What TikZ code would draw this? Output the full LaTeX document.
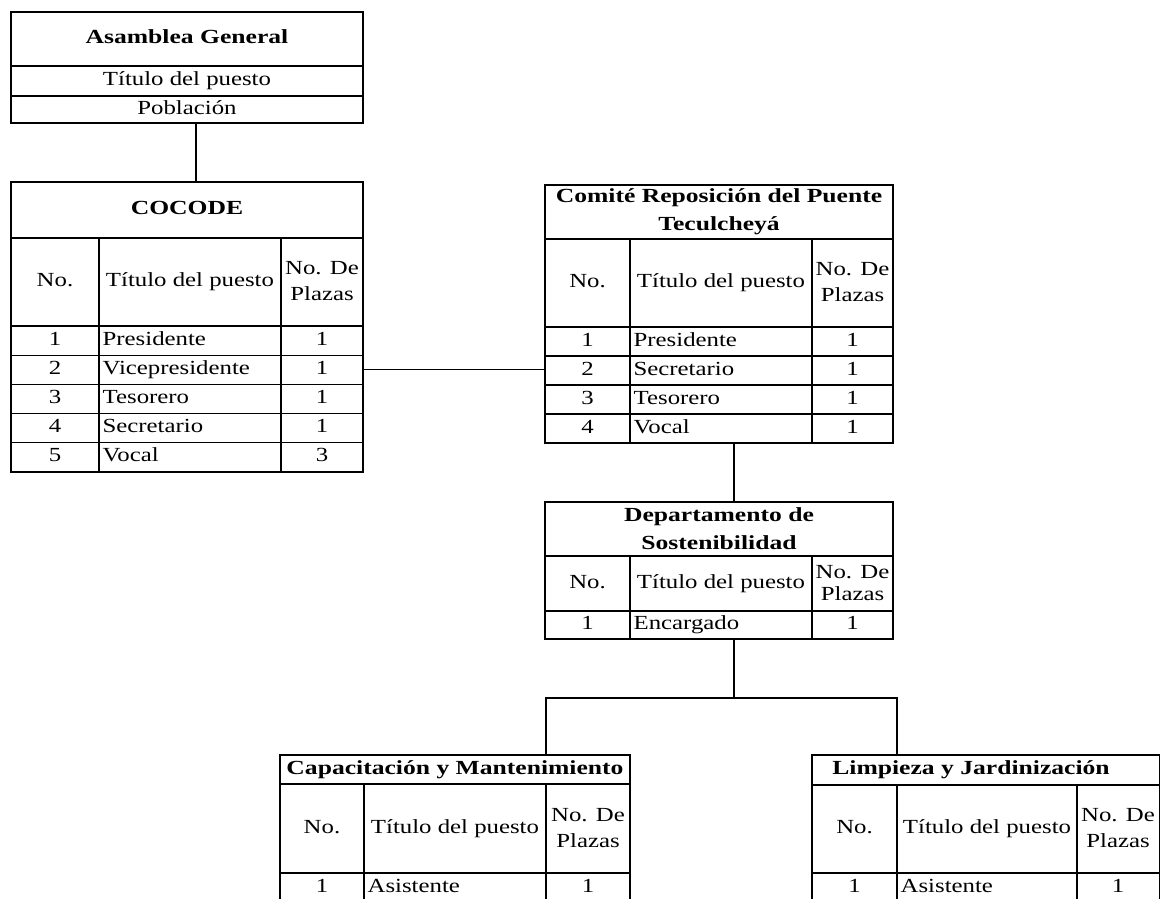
\documentclass[tikz,border=0pt]{standalone}
\usepackage{fontspec}
\setmainfont{Liberation Serif}[FakeStretch=1.24,BoldFeatures={FakeStretch=1.28}]
\usetikzlibrary{positioning}

\begin{document}
\begin{tikzpicture}[
        x = 1pt, y = -1pt,
        line width = 1.3pt,
        every node/.style = {font=\fontsize{20}{21}\selectfont, inner sep=0pt},
        cell/.style = {text height=13.5pt, text depth=4.5pt},
        tblbox/.style = {draw, anchor=north west, outer sep=0pt},
        ttl/.style = {font=\fontsize{20}{28}\selectfont\bfseries, align=center},
        hdr/.style = {align=center, font=\fontsize{20}{26}\selectfont},
        lft/.style = {cell, anchor=west}
    ]
    \useasboundingbox (0,0) rectangle (1160,898);
    \clip (0,0) rectangle (1160,898);

    % Asamblea General
    \node[tblbox, minimum width=352pt, minimum height=111pt] (asamblea) at (11,12) {};
    \draw (11,66) -- (363,66) (11,96) -- (363,96);
    \node[ttl, cell] (asamblea-t) at (187,39) {Asamblea General};
    \node[cell] (asamblea-p) at (187,81) {Título del puesto};
    \node[cell] (asamblea-q) at (187,110) {Población};

    % COCODE
    \node[tblbox, minimum width=352pt, minimum height=290pt] (cocode) at (11,182) {};
    \draw (11,238) -- (363,238) (11,326) -- (363,326);
    \foreach \y in {355.2,384.4,413.6,442.8} \draw (11,\y) -- (363,\y);
    \draw (99,238) -- (99,472) (281,238) -- (281,472);
    \node[ttl, cell] (cocode-t) at (187,210) {COCODE};
    \node[cell] (cocode-h1) at (55,282) {No.};
    \node[cell] (cocode-h2) at (190,282) {Título del puesto};
    \node[hdr] (cocode-h3) at (322,281) {No. De\\Plazas};
    \foreach \n/\p/\k [count=\i] in {1/Presidente/1, 2/Vicepresidente/1, 3/Tesorero/1, 4/Secretario/1, 5/Vocal/3} {
        \node[cell] (cocode-n\i) at (55,311.4+29.2*\i) {\n};
        \node[lft] (cocode-p\i) at (102,311.4+29.2*\i) {\p};
        \node[cell] (cocode-k\i) at (322,311.4+29.2*\i) {\k};
    }

    % Comite
    \node[tblbox, minimum width=348pt, minimum height=258pt] (comite) at (545,185) {};
    \draw (545,239) -- (893,239) (545,327) -- (893,327);
    \foreach \y in {356,385,414} \draw (545,\y) -- (893,\y);
    \draw (630,239) -- (630,443) (812,239) -- (812,443);
    \node[ttl] (comite-t) at (719,212) {Comité Reposición del Puente\\Teculcheyá};
    \node[cell] (comite-h1) at (587.5,283) {No.};
    \node[cell] (comite-h2) at (721,283) {Título del puesto};
    \node[hdr] (comite-h3) at (852.5,282) {No. De\\Plazas};
    \foreach \n/\p/\k [count=\i] in {1/Presidente/1, 2/Secretario/1, 3/Tesorero/1, 4/Vocal/1} {
        \node[cell] (comite-n\i) at (587.5,312.5+29*\i) {\n};
        \node[lft] (comite-p\i) at (633,312.5+29*\i) {\p};
        \node[cell] (comite-k\i) at (852.5,312.5+29*\i) {\k};
    }

    % Departamento de Sostenibilidad
    \node[tblbox, minimum width=348pt, minimum height=137pt] (depto) at (545,502) {};
    \draw (545,556) -- (893,556) (545,611) -- (893,611);
    \draw (630,556) -- (630,639) (812,556) -- (812,639);
    \node[ttl] (depto-t) at (719,529) {Departamento de\\Sostenibilidad};
    \node[cell] (depto-h1) at (587.5,583.5) {No.};
    \node[cell] (depto-h2) at (721,583.5) {Título del puesto};
    \node[hdr, font=\fontsize{20}{22}\selectfont] (depto-h3) at (852.5,583) {No. De\\Plazas};
    \node[cell] (depto-n1) at (587.5,625) {1};
    \node[lft] (depto-p1) at (633,625) {Encargado};
    \node[cell] (depto-k1) at (852.5,625) {1};

    % Capacitacion y Mantenimiento
    \node[tblbox, minimum width=350pt, minimum height=176pt] (capac) at (280,755) {};
    \draw (280,784) -- (630,784) (280,873) -- (630,873) (280,902) -- (630,902);
    \draw (364,784) -- (364,931) (546,784) -- (546,931);
    \coordinate (capac-c2) at (546,784);
    \node[ttl, cell] (capac-t) at (455,770) {Capacitación y Mantenimiento};
    \node[cell] (capac-h1) at (322,828.5) {No.};
    \node[cell] (capac-h2) at (455,828.5) {Título del puesto};
    \node[hdr] (capac-h3) at (588,828) {No. De\\Plazas};
    \node[cell] (capac-n1) at (322,888) {1};
    \node[lft] (capac-p1) at (367,888) {Asistente};
    \node[cell] (capac-k1) at (588,888) {1};

    % Limpieza y Jardinizacion
    \node[tblbox, minimum width=348pt, minimum height=176pt] (limp) at (812,755) {};
    \draw (812,785) -- (1160,785) (812,873) -- (1160,873) (812,902) -- (1160,902);
    \draw (897,785) -- (897,931) (1077,785) -- (1077,931);
    \coordinate (limp-c1) at (897,785);
    \node[ttl, cell] (limp-t) at (971,770) {Limpieza y Jardinización};
    \node[cell] (limp-h1) at (854.5,828.5) {No.};
    \node[cell] (limp-h2) at (987,828.5) {Título del puesto};
    \node[hdr] (limp-h3) at (1118,828) {No. De\\Plazas};
    \node[cell] (limp-n1) at (854.5,888) {1};
    \node[lft] (limp-p1) at (900,888) {Asistente};
    \node[cell] (limp-k1) at (1118,888) {1};

    % connectors
    \coordinate (split) at (734,698);
    \draw ([xshift=15pt]comite.south) -- ([xshift=15pt]depto.north);
    \draw ([xshift=9pt]asamblea.south) -- ([xshift=9pt]cocode.north);
    \draw (cocode.east |- cocode-p2) -- (comite.west |- cocode-p2);
    \draw ([xshift=15pt]depto.south) -- (split);
    \draw (capac.north -| capac-c2) |- (split) -| (limp.north -| limp-c1);
\end{tikzpicture}
\end{document}
